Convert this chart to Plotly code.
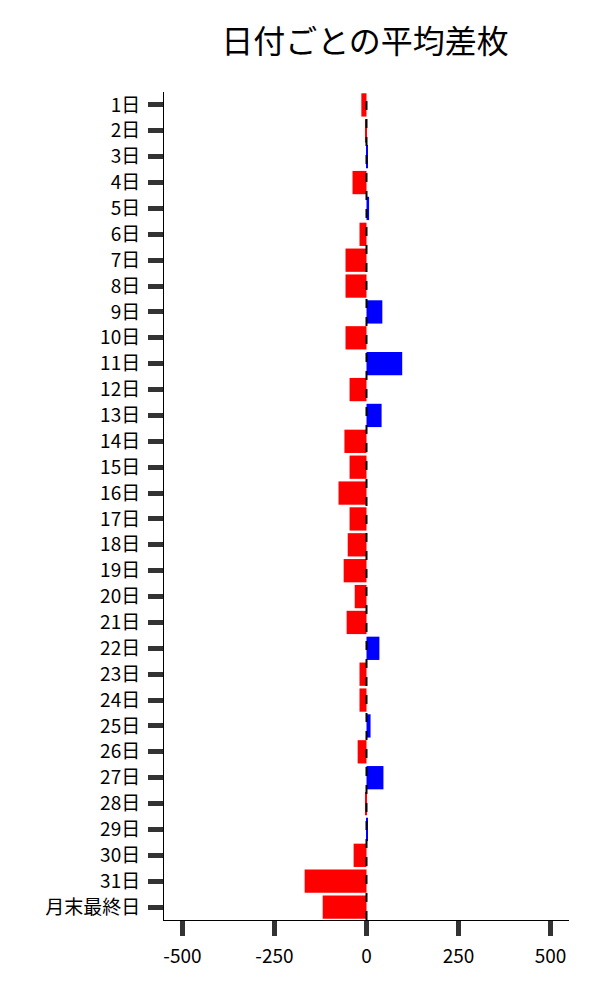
import plotly.graph_objects as go

categories = [f"{i}日" for i in range(1, 32)] + ["月末最終日"]
values = [-14, -3, 4, -38, 7, -19, -57, -57, 43, -57, 97,
          -46, 41, -60, -46, -76, -46, -51, -62, -32, -54,
          35, -19, -19, 11, -24, 46, -2, 2, -35, -168, -119]
x_ticks = [-500, -250, 0, 250, 500]
colors = ["#0000ff" if v > 0 else "#ff0000" for v in values]

fig = go.Figure(go.Bar(
    y=categories, x=values, orientation="h",
    marker=dict(color=colors, line=dict(width=0)),
))

fig.add_shape(type="line", xref="x", yref="paper", x0=0, x1=0, y0=0, y1=1,
              line=dict(color="black", width=2, dash="dash"), layer="above")

fig.update_layout(
    width=600, height=1000,
    margin=dict(l=156, r=39, t=84, b=88),
    paper_bgcolor="white", plot_bgcolor="white",
    font=dict(family="Noto Sans CJK JP", size=19, color="black"),
    title=dict(text="日付ごとの平均差枚", x=0.595, xanchor="center", y=0.966, yanchor="middle",
               font=dict(size=32, family="Noto Sans CJK JP")),
    bargap=0.1,
    showlegend=False,
)
fig.update_xaxes(range=[-550, 550], tickvals=x_ticks, ticktext=[str(t) for t in x_ticks],
                 showgrid=False, zeroline=False, showline=True, linecolor="black", linewidth=1,
                 ticks="outside", ticklen=15, tickwidth=5, tickcolor="#333333",
                 ticklabelstandoff=4)
fig.update_yaxes(autorange="reversed", categoryorder="array", categoryarray=categories,
                 showgrid=False, zeroline=False, showline=True, linecolor="black", linewidth=1,
                 ticks="outside", ticklen=15, tickwidth=5, tickcolor="#333333",
                 tickfont=dict(size=19), ticklabelstandoff=4)

fig.write_html("out.html")
